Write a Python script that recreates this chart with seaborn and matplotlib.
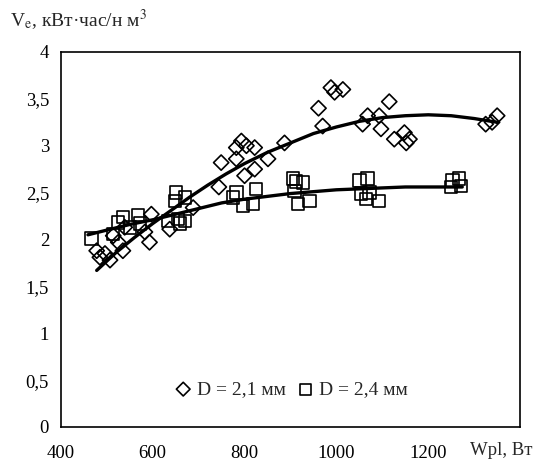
import numpy as np
import pandas as pd
import seaborn as sns
import matplotlib.pyplot as plt
from matplotlib.ticker import FuncFormatter

# D = 2,1 mm (diamonds)
w_21 = [478, 485, 496, 507, 514, 525, 535, 539, 583, 593, 597, 637, 688, 744, 749,
        782, 782, 793, 800, 804, 822, 822, 851, 887, 961, 970, 988, 996, 1014, 1057,
        1068, 1093, 1097, 1115, 1126, 1148, 1152, 1159, 1325, 1339, 1350]
v_21 = [1.88, 1.81, 1.85, 1.78, 2.04, 1.97, 1.88, 2.13, 2.08, 1.97, 2.27, 2.11, 2.34, 2.56, 2.82,
        2.98, 2.86, 3.05, 2.68, 3.00, 2.98, 2.75, 2.86, 3.03, 3.40, 3.21, 3.62, 3.57, 3.60, 3.23,
        3.32, 3.32, 3.18, 3.47, 3.07, 3.14, 3.03, 3.07, 3.23, 3.25, 3.32]

# D = 2,4 mm (squares)
w_24 = [467, 514, 525, 535, 550, 568, 572, 633, 648, 651, 655, 659, 670, 670, 775,
        782, 796, 818, 825, 905, 912, 909, 916, 927, 941, 1050, 1054, 1065, 1068, 1072,
        1093, 1249, 1253, 1267, 1271]
v_24 = [2.01, 2.06, 2.18, 2.24, 2.13, 2.26, 2.17, 2.20, 2.41, 2.50, 2.22, 2.17, 2.45, 2.20, 2.45,
        2.50, 2.36, 2.38, 2.54, 2.65, 2.62, 2.52, 2.38, 2.61, 2.41, 2.63, 2.49, 2.43, 2.65, 2.50,
        2.41, 2.56, 2.63, 2.65, 2.57]

# trend lines
trend_w_21 = [478, 520, 560, 600, 640, 680, 720, 760, 800, 850, 900, 950, 1000,
              1050, 1100, 1150, 1200, 1250, 1300, 1350]
trend_v_21 = [1.67, 1.86, 2.02, 2.17, 2.31, 2.45, 2.58, 2.70, 2.81, 2.93, 3.03, 3.13, 3.20,
              3.26, 3.30, 3.32, 3.33, 3.32, 3.29, 3.25]
trend_w_24 = [459, 500, 550, 600, 650, 700, 750, 800, 850, 900, 950, 1000, 1050,
              1100, 1150, 1200, 1274]
trend_v_24 = [2.05, 2.10, 2.16, 2.21, 2.27, 2.33, 2.39, 2.43, 2.46, 2.49, 2.51, 2.53, 2.54,
              2.55, 2.56, 2.56, 2.56]

sns.set_style('white')
plt.rcParams['font.family'] = ['Liberation Serif', 'DejaVu Serif']
plt.rcParams['mathtext.fontset'] = 'stix'

fig = plt.figure(figsize=(5.34, 4.67), dpi=100)
ax = fig.add_axes([0.114, 0.0857, 0.86, 0.803])

sns.lineplot(x=trend_w_21, y=trend_v_21, color='black', linewidth=2.4, ax=ax)
sns.lineplot(x=trend_w_24, y=trend_v_24, color='black', linewidth=2.4, ax=ax)

sns.scatterplot(x=w_21, y=v_21, marker='D', s=60, facecolor='none', edgecolor='black',
                linewidth=1.2, label='D = 2,1 мм', ax=ax)
sns.scatterplot(x=w_24, y=v_24, marker='s', s=80, facecolor='none', edgecolor='black',
                linewidth=1.2, label='D = 2,4 мм', ax=ax)

ax.set_xlim(400, 1400)
ax.set_ylim(0, 4)
ax.set_xticks([400, 600, 800, 1000, 1200])
ax.set_yticks(np.arange(0, 4.01, 0.5))
ax.yaxis.set_major_formatter(FuncFormatter(lambda v, p: ('%g' % v).replace('.', ',')))
ax.tick_params(axis='both', direction='out', length=5, width=1.2, labelsize=13.5, colors='black')
ax.tick_params(axis='x', pad=8)
for s in ax.spines.values():
    s.set_visible(True)
    s.set_color('black')
    s.set_linewidth(1.2)
ax.set_xlabel('')
ax.set_ylabel('')

leg = ax.legend(loc='lower center', bbox_to_anchor=(0.5, 0.03), ncol=2, frameon=False,
                fontsize=14, handlelength=1.0, handletextpad=0.2, columnspacing=0.5,
                markerscale=0.9)

fig.text(0.019, 0.958, r'V$_\mathrm{e}$, кВт·час/н м$^3$', fontsize=14, ha='left', va='center')
fig.text(0.88, 0.035, 'Wpl, Вт', fontsize=13.5, ha='left', va='center')

plt.savefig('out.png', dpi=100)
